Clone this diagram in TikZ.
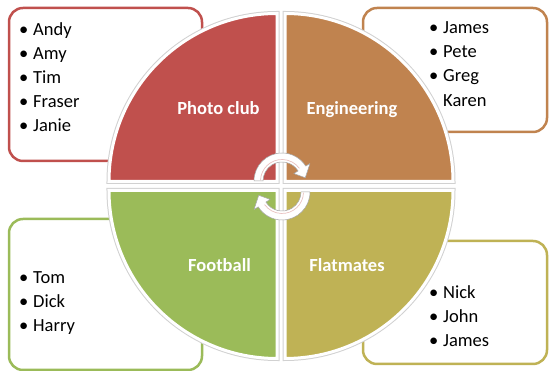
\documentclass[tikz,border=0pt]{standalone}
\usepackage{fontspec}
\setmainfont{Carlito}
\definecolor{cred}{HTML}{C0504D}
\definecolor{corange}{HTML}{C0834F}
\definecolor{cgreen}{HTML}{9BBB59}
\definecolor{colive}{HTML}{BFB255}
\newcommand\mybullet{\makebox[14pt][l]{•}}
\begin{document}
\begin{tikzpicture}[x=1pt,y=1pt,
  listbox/.style={line width=2.5pt, rounded corners=14pt, fill=white},
  quadshadow/.style={draw=black!18, line width=5pt},
  quad/.style={draw=white, line width=3pt},
  item/.style={anchor=base west, inner sep=0pt, font=\fontsize{18.5}{22}\selectfont},
  qlabel/.style={anchor=base, inner sep=0pt, text=white, font=\fontsize{18.5}{22}\selectfont\bfseries},
  cyclearrow/.style={fill=white, draw=black!35, line width=0.5pt, line join=round},
  cycleline/.style={draw=cred!35, line width=0.7pt}
]
\useasboundingbox (0,0) rectangle (550,371);

% list boxes (behind the circle)
\draw[listbox, draw=cred]    (9,363) rectangle (202,210);
\draw[listbox, draw=corange] (363,363) rectangle (547,239);
\draw[listbox, draw=cgreen]  (9,152) rectangle (202,1);
\draw[listbox, draw=colive]  (363,130) rectangle (547,7);

% quadrants
\def\R{168}
\draw[quadshadow] (277,189.5) -- ++(0,\R) arc[start angle=90,end angle=180,radius=\R pt] -- cycle;
\draw[quadshadow] (285,189.5) -- ++(\R,0) arc[start angle=0,end angle=90,radius=\R pt] -- cycle;
\draw[quadshadow] (277,180.5) -- ++(-\R,0) arc[start angle=180,end angle=270,radius=\R pt] -- cycle;
\draw[quadshadow] (285,180.5) -- ++(0,-\R) arc[start angle=270,end angle=360,radius=\R pt] -- cycle;
\filldraw[quad, fill=cred]    (277,189.5) -- ++(0,\R) arc[start angle=90,end angle=180,radius=\R pt] -- cycle;
\filldraw[quad, fill=corange] (285,189.5) -- ++(\R,0) arc[start angle=0,end angle=90,radius=\R pt] -- cycle;
\filldraw[quad, fill=cgreen]  (277,180.5) -- ++(-\R,0) arc[start angle=180,end angle=270,radius=\R pt] -- cycle;
\filldraw[quad, fill=colive]  (285,180.5) -- ++(0,-\R) arc[start angle=270,end angle=360,radius=\R pt] -- cycle;

% quadrant labels
\node[qlabel] (photo) at (218.5,256) {Photo club};
\node[qlabel] (eng)   at (352,256) {Engineering};
\node[qlabel] (foot)  at (219.5,99) {Football};
\node[qlabel] (flat)  at (347,99) {Flatmates};

% cycle arrows
\coordinate (c1) at (282,190);
\coordinate (c2) at (282,179);
\path[cyclearrow] ([shift={(c1)}]180:28) arc[start angle=180,end angle=32,radius=28pt]
  -- ([shift={(c1)}]32:33) -- ([shift={(c1)}]8:23.5) -- ([shift={(c1)}]32:14)
  -- ([shift={(c1)}]32:19) arc[start angle=32,end angle=180,radius=19pt] -- cycle;
\draw[cycleline] ([shift={(c1)}]178:21.5) arc[start angle=178,end angle=36,radius=21.5pt];
\path[cyclearrow] ([shift={(c2)}]0:28) arc[start angle=0,end angle=-148,radius=28pt]
  -- ([shift={(c2)}]212:33) -- ([shift={(c2)}]188:23.5) -- ([shift={(c2)}]212:14)
  -- ([shift={(c2)}]212:19) arc[start angle=-148,end angle=0,radius=19pt] -- cycle;
\draw[cycleline] ([shift={(c2)}]-2:21.5) arc[start angle=-2,end angle=-144,radius=21.5pt];

% lists
\foreach \t [count=\i from 0] in {Andy,Amy,Tim,Fraser,Janie}
  \node[item] (tl\i) at (19,335-24*\i) {\mybullet\t};
\foreach \t [count=\i from 0] in {James,Pete,Greg}
  \node[item] (tr\i) at (429,337-24*\i) {\mybullet\t};
\node[item] (tr3) at (429,264) {\hspace*{14pt}Karen};
\foreach \t [count=\i from 0] in {Tom,Dick,Harry}
  \node[item] (bl\i) at (19,87-24*\i) {\mybullet\t};
\foreach \t [count=\i from 0] in {Nick,John,James}
  \node[item] (br\i) at (429,72-24*\i) {\mybullet\t};
\end{tikzpicture}
\end{document}
